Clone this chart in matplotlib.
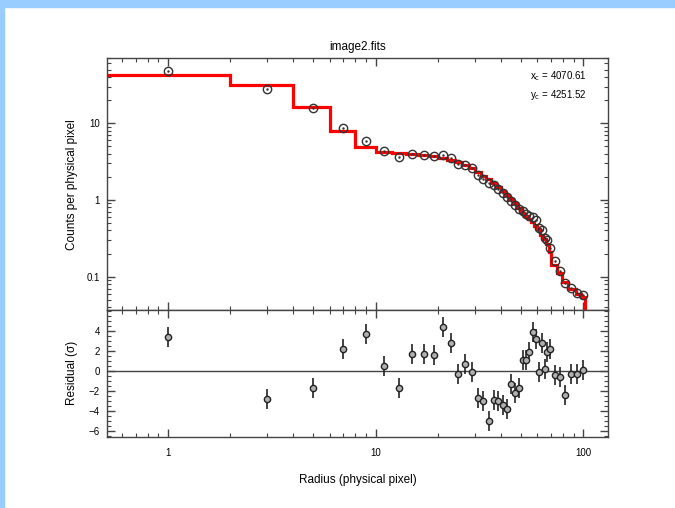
import matplotlib
matplotlib.use("Agg")
import matplotlib.pyplot as plt
from matplotlib.patches import Rectangle
from matplotlib.ticker import LogLocator, MultipleLocator, NullFormatter, FixedLocator, FixedFormatter

plt.rcParams['font.family'] = ['Liberation Sans', 'DejaVu Sans']

# radial profile (bin centres, observed counts, residuals)
rayon = [1, 3, 5, 7, 9, 11, 13, 15, 17, 19, 21, 23, 25, 27, 29, 31, 33, 35, 37, 39,
         41, 43, 45, 47, 49, 51, 53, 55, 57, 59, 61, 63, 65, 67, 69,
         72.8, 76.9, 81.3, 87.2, 93.6, 99.6]
comptes = [48, 28, 15.7, 8.6, 5.93, 4.35, 3.67, 4.02, 3.9, 3.75, 3.83, 3.5, 2.98, 2.86, 2.59,
           2.12, 1.9, 1.65, 1.55, 1.4, 1.23, 1.08, 0.98, 0.86, 0.76, 0.72, 0.66, 0.62, 0.6,
           0.55, 0.43, 0.40, 0.316, 0.30, 0.235, 0.158, 0.117, 0.082, 0.071, 0.061, 0.057]
residus = [3.43, -2.77, -1.73, 2.17, 3.7, 0.53, -1.67, 1.67, 1.67, 1.6, 4.4, 2.77, -0.27, 0.67,
           -0.07, -2.73, -3.0, -5.0, -2.9, -3.0, -3.4, -3.83, -1.33, -2.23, -1.73, 1.1, 1.1,
           1.93, 3.93, 3.17, -0.07, 2.83, 0.2, 1.93, 2.2, -0.4, -0.57, -2.4, -0.33, -0.33, 0.07]

# model (step per bin)
bords = [0.3, 2, 4, 6, 8, 10, 12, 14, 16, 18, 20, 22, 24, 26, 28, 30, 32, 34, 36, 38, 40,
         42, 44, 46, 48, 50, 52, 54, 56, 58, 60, 62, 64, 66, 68, 70, 75, 79, 84, 92, 97, 102]
modele = [42.7, 31, 16.4, 7.9, 4.95, 4.19, 4.1, 3.95, 3.85, 3.7, 3.55, 3.35, 3.1, 2.85, 2.6,
          2.3, 2.05, 1.85, 1.65, 1.48, 1.3, 1.15, 1.02, 0.9, 0.78, 0.68, 0.62, 0.57, 0.51,
          0.46, 0.42, 0.35, 0.31, 0.27, 0.21, 0.14, 0.11, 0.085, 0.07, 0.06, 0.055]

fig = plt.figure(figsize=(6.75, 5.08), dpi=100)
# bordure bleue
fig.patches.append(Rectangle((0, 1 - 7 / 508), 1, 7 / 508, transform=fig.transFigure,
                             color="#99ccff", zorder=0))
fig.patches.append(Rectangle((0, 0), 4 / 675, 1, transform=fig.transFigure,
                             color="#99ccff", zorder=0))

ax1 = fig.add_axes([0.1585, 0.3898, 0.742, 0.4954])
ax2 = fig.add_axes([0.1585, 0.1404, 0.742, 0.2494], sharex=ax1)

ax1.stairs(modele, bords, baseline=1e-4, color="red", lw=2.3, zorder=2)
ax1.plot(rayon, comptes, "o", mfc="none", mec="#333333", ms=6, mew=1.0, zorder=3)
ax1.plot(rayon, comptes, ".", color="#333333", ms=1.5, zorder=4)
ax1.set_xscale("log")
ax1.set_yscale("log")
ax1.set_xlim(0.51, 131)
ax1.set_ylim(0.0368, 70)
ax1.set_ylabel("Counts per physical pixel", fontsize=8.5, labelpad=6)
ax1.set_title("image2.fits", fontsize=8.5, pad=6)
ax1.text(0.958, 0.955, "x$_{\\rm c}$ = 4070.61\ny$_{\\rm c}$ = 4251.52", transform=ax1.transAxes,
         ha="right", va="top", fontsize=7, linespacing=1.45)
ax1.yaxis.set_major_locator(FixedLocator([0.1, 1, 10]))
ax1.yaxis.set_major_formatter(FixedFormatter(["0.1", "1", "10"]))
ax1.yaxis.set_minor_locator(LogLocator(subs=range(2, 10)))
ax1.yaxis.set_minor_formatter(NullFormatter())
plt.setp(ax1.get_xticklabels(), visible=False)

ax2.errorbar(rayon, residus, yerr=1, fmt="o", mfc="#b0b0b0", mec="#222222", ms=4.5, mew=1.0,
             ecolor="#222222", elinewidth=1.2, capsize=0, zorder=3)
ax2.axhline(0, color="#444444", lw=1.0, zorder=1)
ax2.set_ylim(-6.55, 6.1)
ax2.yaxis.set_major_locator(FixedLocator([-6, -4, -2, 0, 2, 4]))
ax2.yaxis.set_minor_locator(MultipleLocator(0.5))
ax2.set_ylabel("Residual (\u03c3)", fontsize=8.5, labelpad=8)
ax2.set_xlabel("Radius (physical pixel)", fontsize=8.5, labelpad=12)
ax2.xaxis.set_major_locator(FixedLocator([1, 10, 100]))
ax2.xaxis.set_major_formatter(FixedFormatter(["1", "10", "100"]))
ax2.xaxis.set_minor_locator(LogLocator(subs=range(2, 10)))
ax2.xaxis.set_minor_formatter(NullFormatter())

for ax in (ax1, ax2):
    ax.tick_params(which="both", direction="in", top=True, right=True, labelsize=7, color="#444444")
    ax.tick_params(which="major", length=6, width=1.0, pad=5)
    ax.tick_params(which="minor", length=3, width=0.8)
    ax.tick_params(axis="x", which="major", pad=8)
    for s in ax.spines.values():
        s.set_color("#444444")
        s.set_linewidth(1.0)

fig.savefig("out.png", dpi=100)
